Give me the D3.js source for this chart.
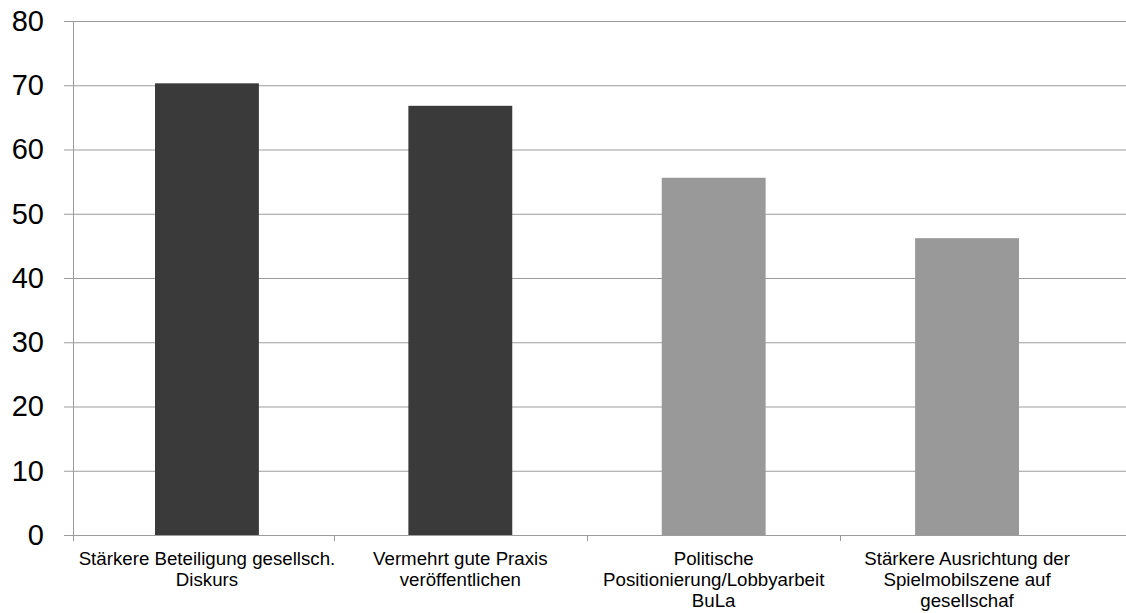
<!DOCTYPE html>
<html>
<head>
<meta charset="utf-8">
<script src="https://cdn.jsdelivr.net/npm/d3@7"></script>
<style>
  html, body { margin: 0; padding: 0; background: #fff; }
  svg { display: block; }
  text { font-family: "Liberation Sans", Arial, sans-serif; fill: #000; }
</style>
</head>
<body>
<svg id="chart" width="1126" height="613"></svg>
<script>
// ---- data ----
const categories = [
  "Stärkere Beteiligung gesellsch. Diskurs",
  "Vermehrt gute Praxis veröffentlichen",
  "Politische Positionierung/Lobbyarbeit BuLa",
  "Stärkere Ausrichtung der Spielmobilszene auf gesellschaf"
];
const labelLines = [
  ["Stärkere Beteiligung gesellsch.", "Diskurs"],
  ["Vermehrt gute Praxis", "veröffentlichen"],
  ["Politische", "Positionierung/Lobbyarbeit", "BuLa"],
  ["Stärkere Ausrichtung der", "Spielmobilszene auf", "gesellschaf"]
];
const values = [70.3, 66.8, 55.6, 46.2];
const barGroup = ["dark", "dark", "light", "light"];
const yTicks = [0, 10, 20, 30, 40, 50, 60, 70, 80];

// ---- layout ----
const svg = d3.select("#chart");
const axisX = 73, plotTop = 21, plotBottom = 535, rightEdge = 1126;

const x = d3.scaleBand().domain(categories).range([79, 1095])
  .paddingInner(0.59).paddingOuter(0.3);
const y = d3.scaleLinear().domain([0, 80]).range([plotBottom, plotTop]);
const color = d3.scaleOrdinal().domain(["dark", "light"]).range(["#3a3a3a", "#999999"]);

// gridlines + y ticks
const yAxis = d3.axisLeft(y).tickValues(yTicks).tickSize(-(rightEdge - axisX)).tickSizeOuter(0).tickPadding(20);
const gy = svg.append("g").attr("transform", `translate(${axisX},0)`).call(yAxis);
gy.select(".domain").remove();
gy.selectAll(".tick line").attr("x1", -9).attr("stroke", "#9c9c9c").attr("stroke-width", 1);
gy.selectAll(".tick text")
  .attr("x", -29)
  .style("font-size", "29px")
  .style("font-family", "'Liberation Sans', Arial, sans-serif")
  .attr("fill", "#000");

// y axis line
svg.append("line")
  .attr("x1", axisX + 0.5).attr("x2", axisX + 0.5)
  .attr("y1", plotTop).attr("y2", plotBottom + 6)
  .attr("stroke", "#9c9c9c").attr("stroke-width", 1);

// bars
svg.append("g").selectAll("rect").data(categories).join("rect")
  .attr("x", d => x(d))
  .attr("y", (d, i) => y(values[i]))
  .attr("width", x.bandwidth())
  .attr("height", (d, i) => y(0) - y(values[i]))
  .attr("fill", (d, i) => color(barGroup[i]));

// category tick marks at band boundaries
const half = x.step() * x.paddingInner() / 2;
svg.append("g").selectAll("line").data(categories.slice(1)).join("line")
  .attr("x1", d => Math.round(x(d) - half) + 0.5)
  .attr("x2", d => Math.round(x(d) - half) + 0.5)
  .attr("y1", plotBottom).attr("y2", plotBottom + 6)
  .attr("stroke", "#9c9c9c");

// x labels
const lbl = svg.append("g").selectAll("text").data(categories).join("text")
  .attr("text-anchor", "middle")
  .style("font-size", "18.7px")
  .attr("transform", d => `translate(${x(d) + x.bandwidth() / 2},565)`);
lbl.selectAll("tspan").data((d, i) => labelLines[i]).join("tspan")
  .attr("x", 0)
  .attr("y", (d, j) => j * 21)
  .text(d => d);
</script>
</body>
</html>
